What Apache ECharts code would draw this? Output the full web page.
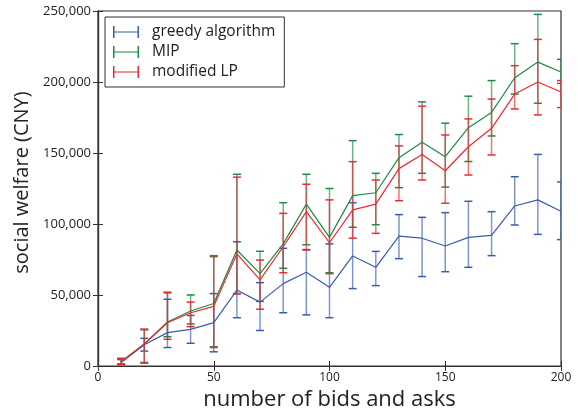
<!DOCTYPE html>
<html><head><meta charset="utf-8">
<script src="https://cdn.jsdelivr.net/npm/echarts@6/dist/echarts.min.js"></script>
<style>html,body{margin:0;padding:0;background:#fff}#c{width:578px;height:411px}</style>
</head><body><div id="c"></div>
<script>
const xs = [10,20,30,40,50,60,70,80,90,100,110,120,130,140,150,160,170,180,190,200];
const greedyMean = [2.5,15,23.5,25.8,30.5,53.5,45,58,66,55.4,77.5,69.5,91.5,90,84.5,90.6,92,112.7,117,109];
const greedyLow  = [1.5,10.5,13,16,10,34,25,37.5,36,34,54.5,56.6,75.6,63,66.4,69.5,77.7,99.3,92.7,89];
const greedyHigh = [4.5,19.5,47,35.6,51,87.5,58.7,82.9,82,86,115,80.7,106.6,104.7,108,116,108.7,133.3,149,129.6];
const mipMean = [3,15.5,31,38.7,44,81.7,65,86,114,90.6,120,122,146.7,157.5,147.4,167.8,178.6,203,214,207];
const mipLow  = [1,2.5,20.6,29.6,13.5,51,45.5,68.8,85.4,65.7,97.7,99.5,125.6,135.7,126,144,162,191.5,185,199];
const mipHigh = [5,25.5,52,50,77,135,80.8,115,135,125,158.7,135.7,163,186,171,190,201,227,247.6,216];
const lpMean = [3,15.5,30.5,37.5,42,79,60.6,84,108.7,86.8,110,114,139,149,137.5,154.4,167.4,191.5,200,193];
const lpLow  = [1,2,18.8,27.7,13,50.7,40,65.7,81.7,65,90,93.4,116.4,131,114.6,134.5,148.6,181,176.8,182];
const lpHigh = [5.5,26,51.5,45,77.7,133,74.6,107.5,128,117,143.9,131,155,183,162.7,174,188,211.5,230,201];
const yTicks = [0,50000,100000,150000,200000,250000];
const xTicks = [0,50,100,150,200];

const K = 1000;
const C = {g:'#3a5cad', m:'#1f8a47', r:'#ec2a2f'};
const chart = echarts.init(document.getElementById('c'), null, {renderer:'canvas'});
const font = '"Open Sans", "DejaVu Sans", sans-serif';
function lineData(m){ return xs.map((x,i)=>[x, m[i]*K]); }
function errData(lo,hi){ return xs.map((x,i)=>[x, lo[i]*K, hi[i]*K]); }
function errSeries(name, lo, hi, color){
  return {
    type:'custom', name:name, data: errData(lo,hi), z:3, silent:true,
    itemStyle:{color:color},
    encode:{x:0, y:[1,2]},
    renderItem:function(params, api){
      const x = api.value(0);
      const p1 = api.coord([x, api.value(1)]);
      const p2 = api.coord([x, api.value(2)]);
      const w = 4;
      return {type:'group', children:[
        {type:'line', shape:{x1:p1[0],y1:p1[1],x2:p2[0],y2:p2[1]}, style:{stroke:color, lineWidth:1.5, opacity:0.65}},
        {type:'line', shape:{x1:p1[0]-w,y1:p1[1],x2:p1[0]+w,y2:p1[1]}, style:{stroke:color, lineWidth:1.5}},
        {type:'line', shape:{x1:p2[0]-w,y1:p2[1],x2:p2[0]+w,y2:p2[1]}, style:{stroke:color, lineWidth:1.5}}
      ]};
    },
    clip:true
  };
}
function lineSeries(name, m, color){
  return {type:'line', name:name, data: lineData(m), symbol:'none', z:4,
    lineStyle:{color:color, width:1.2}, itemStyle:{color:color}};
}
const icon = 'path://M0,0h1.5v12h-1.5z M0,5.4h26v1.2h-26z M24.5,0h1.5v12h-1.5z';
const option = {
  animation:false,
  backgroundColor:'#fff',
  grid:{left:98, right:17, top:11, bottom:45, outerBoundsMode:'none', containLabel:false,
    show:true, borderColor:'#333', borderWidth:1.2, backgroundColor:'transparent'},
  legend:{
    orient:'vertical', left:105, top:17,
    data:[{name:'greedy algorithm', icon:icon},{name:'MIP', icon:icon},{name:'modified LP', icon:icon}],
    itemWidth:26, itemHeight:12, itemGap:4, padding:[7,9,7,8],
    borderColor:'#333', borderWidth:1, backgroundColor:'#fff',
    textStyle:{fontSize:15.5, color:'#222', fontFamily:font, padding:[0,0,0,8]}
  },
  xAxis:[{
    type:'value', min:0, max:200, interval:50,
    name:'number of bids and asks', nameLocation:'middle', nameGap:21,
    nameTextStyle:{fontSize:22, color:'#222', fontFamily:font},
    axisLine:{lineStyle:{color:'#333', width:1.2}},
    axisTick:{inside:true, length:5, lineStyle:{color:'#333'}},
    axisLabel:{fontSize:12, color:'#222', fontFamily:font, margin:6},
    splitLine:{show:false}
  },{
    type:'value', min:0, max:200, interval:50, position:'top',
    axisLine:{show:true, lineStyle:{color:'#333', width:1.2}},
    axisTick:{inside:true, length:5, lineStyle:{color:'#333'}},
    axisLabel:{show:false}, splitLine:{show:false}
  }],
  yAxis:[{
    type:'value', min:0, max:250000, interval:50000,
    name:'social welfare (CNY)', nameLocation:'middle', nameGap:50,
    nameTextStyle:{fontSize:20, color:'#222', fontFamily:font, padding:[0,0,0,12]},
    axisLine:{show:true, lineStyle:{color:'#333', width:1.2}},
    axisTick:{inside:true, length:5, lineStyle:{color:'#333'}},
    axisLabel:{fontSize:13, color:'#222', fontFamily:font, margin:7,
      formatter:v=> yTicks.includes(v) ? v.toLocaleString('en-US') : ''},
    splitLine:{show:false}
  },{
    type:'value', min:0, max:250000, interval:50000, position:'right',
    axisLine:{show:true, lineStyle:{color:'#333', width:1.2}},
    axisTick:{inside:true, length:5, lineStyle:{color:'#333'}},
    axisLabel:{show:false}, splitLine:{show:false}
  }],
  series:[
    errSeries('greedy algorithm', greedyLow, greedyHigh, C.g),
    errSeries('MIP', mipLow, mipHigh, C.m),
    errSeries('modified LP', lpLow, lpHigh, C.r),
    lineSeries('greedy algorithm', greedyMean, C.g),
    lineSeries('MIP', mipMean, C.m),
    lineSeries('modified LP', lpMean, C.r)
  ]
};
chart.setOption(option);
</script></body></html>
